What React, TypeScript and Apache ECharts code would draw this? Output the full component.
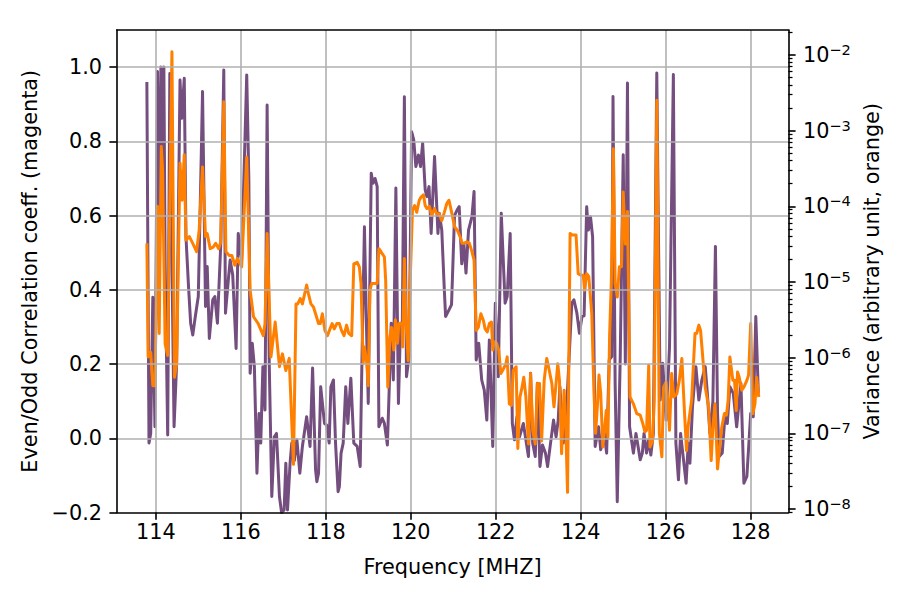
import React, { useEffect, useRef } from 'react';
import * as echarts from 'echarts';

const FONT = 'DejaVu Sans';
const MINUS = '\u2212';
const PURPLE = '#744e7e';
const ORANGE = '#ff7f00';
const GRID_GRAY = '#b0b0b0';
const FONT_SIZE = 20.8;
const SUP_SIZE = 14.6;

// Axis extents
const X_MIN = 113.08;
const X_MAX = 128.885;
const CORR_MIN = -0.2;
const CORR_MAX = 1.1;
const VAR_EXP_MIN = -8.046;
const VAR_EXP_MAX = -1.671;

// Tick positions
const freqTicks = [114, 116, 118, 120, 122, 124, 126, 128];
const corrTicks = [-0.2, 0, 0.2, 0.4, 0.6, 0.8, 1.0];
const varDecades = [-8, -7, -6, -5, -4, -3, -2];

// Even/odd correlation coefficient (left axis)
const corrFreq = [
  113.79, 113.84, 113.88, 113.93, 113.98, 114.04, 114.08, 114.12, 114.15, 114.19,
  114.22, 114.28, 114.33, 114.38, 114.43, 114.49, 114.57, 114.61, 114.67, 114.71,
  114.77, 114.82, 114.87, 114.93, 115.0, 115.05, 115.1, 115.17, 115.21, 115.26,
  115.34, 115.39, 115.45, 115.53, 115.6, 115.64, 115.71, 115.75, 115.81, 115.89,
  115.94, 116.02, 116.14, 116.19, 116.22, 116.27, 116.32, 116.38, 116.43, 116.47,
  116.52, 116.57, 116.62, 116.67, 116.73, 116.79, 116.84, 116.91, 116.96, 117.02,
  117.06, 117.1, 117.16, 117.2, 117.26, 117.32, 117.39, 117.45, 117.55, 117.63,
  117.69, 117.76, 117.79, 117.83, 117.88, 117.97, 118.02, 118.08, 118.12, 118.18,
  118.23, 118.29, 118.32, 118.36, 118.41, 118.47, 118.52, 118.59, 118.66, 118.74,
  118.81, 118.85, 118.91, 118.96, 119.0, 119.07, 119.11, 119.16, 119.21, 119.25,
  119.33, 119.38, 119.45, 119.5, 119.54, 119.59, 119.65, 119.71, 119.76, 119.8,
  119.85, 119.9, 119.96, 120.02, 120.07, 120.12, 120.18, 120.23, 120.28, 120.34,
  120.38, 120.43, 120.48, 120.56, 120.64, 120.67, 120.73, 120.79, 120.82, 120.9,
  120.96, 121.03, 121.09, 121.14, 121.2, 121.25, 121.3, 121.36, 121.44, 121.49,
  121.54, 121.6, 121.67, 121.73, 121.79, 121.85, 121.93, 121.99, 122.06, 122.13,
  122.22, 122.27, 122.34, 122.39, 122.44, 122.5, 122.56, 122.65, 122.77, 122.82,
  122.87, 122.93, 122.98, 123.04, 123.1, 123.17, 123.22, 123.28, 123.36, 123.42,
  123.47, 123.51, 123.59, 123.67, 123.79, 123.84, 123.91, 123.97, 124.03, 124.08,
  124.14, 124.18, 124.23, 124.28, 124.34, 124.42, 124.47, 124.55, 124.61, 124.67,
  124.73, 124.76, 124.81, 124.86, 124.93, 125.0, 125.05, 125.1, 125.15, 125.24,
  125.3, 125.4, 125.45, 125.49, 125.55, 125.6, 125.65, 125.71, 125.79, 125.87,
  125.93, 126.01, 126.09, 126.18, 126.24, 126.3, 126.35, 126.48, 126.53, 126.57,
  126.63, 126.71, 126.78, 126.85, 126.93, 126.98, 127.04, 127.11, 127.17, 127.22,
  127.26, 127.33, 127.4, 127.45, 127.51, 127.59, 127.67, 127.77, 127.84, 127.91,
  128.0, 128.06, 128.12, 128.18,
];
const corrValue = [
  0.96, -0.013, 0.013, 0.38, 0.031, 0.988, 0.56, 1.0, 0.65, 1.0,
  0.47, 0.009, 0.983, 0.47, 0.031, 0.2, 0.965, 0.862, 0.97, 0.543,
  0.41, 0.31, 0.278, 0.328, 0.382, 0.65, 0.934, 0.355, 0.463, 0.269,
  0.373, 0.382, 0.31, 0.525, 0.992, 0.337, 0.431, 0.48, 0.44, 0.242,
  0.552, 0.48, 0.979, 0.696, 0.175, 0.256, 0.193, -0.094, 0.067, -0.013,
  0.193, 0.076, 0.898, 0.2, -0.157, 0.004, 0.013, -0.157, -0.2, -0.193,
  -0.067, -0.193, -0.067, -0.013, -0.06, -0.004, -0.094, -0.022, 0.058, -0.022,
  0.189, -0.085, -0.117, -0.094, 0.139, 0.04, 0.036, -0.013, 0.139, 0.157,
  -0.013, -0.144, -0.13, -0.04, -0.013, 0.139, 0.04, 0.162, -0.013, -0.022,
  -0.076, 0.2, 0.57, 0.292, 0.094, 0.714, 0.687, 0.7, 0.678, 0.031,
  0.054, 0.04, -0.018, 0.157, 0.31, 0.157, 0.674, 0.094, 0.31, 0.287,
  0.92, 0.166, 0.22, 0.826, 0.804, 0.732, 0.763, 0.732, 0.795, 0.669,
  0.651, 0.678, 0.552, 0.759, 0.552, 0.606, 0.561, 0.4, 0.328, 0.346,
  0.36, 0.6, 0.615, 0.624, 0.47, 0.525, 0.445, 0.561, 0.597, 0.665,
  0.211, 0.256, 0.157, 0.13, 0.049, 0.265, -0.022, 0.364, 0.166, 0.606,
  0.364, 0.382, 0.552, 0.04, -0.004, 0.058, 0.004, 0.04, -0.049, 0.175,
  -0.013, -0.049, 0.148, -0.076, -0.018, -0.04, -0.076, -0.022, 0.049, 0.004,
  0.049, 0.139, -0.013, 0.085, 0.364, 0.373, 0.337, 0.283, 0.328, 0.33,
  0.624, 0.561, 0.597, 0.543, -0.022, 0.031, -0.031, 0.013, -0.04, 0.211,
  0.22, 0.921, 0.148, -0.171, 0.22, 0.764, 0.2, 0.957, 0.031, -0.04,
  0.013, -0.058, -0.04, 0.013, -0.04, -0.004, -0.045, 0.013, 0.984, 0.103,
  0.202, 0.049, 0.247, 0.98, -0.013, -0.112, 0.013, -0.121, -0.013, -0.067,
  0.085, 0.193, 0.103, 0.157, 0.193, 0.121, 0.013, 0.099, 0.517, 0.067,
  -0.049, -0.04, 0.067, 0.04, 0.139, 0.121, 0.031, 0.148, -0.121, -0.103,
  0.067, 0.058, 0.328, 0.121,
];

// Variance, stored as base-10 exponents (right axis)
const varFreq = [
  113.79, 113.82, 113.88, 113.93, 113.98, 114.04, 114.08, 114.13, 114.16, 114.22,
  114.28, 114.38, 114.44, 114.49, 114.57, 114.62, 114.67, 114.71, 114.79, 114.87,
  114.96, 115.02, 115.1, 115.17, 115.21, 115.28, 115.35, 115.41, 115.48, 115.53,
  115.6, 115.65, 115.73, 115.79, 115.86, 115.92, 116.02, 116.14, 116.22, 116.3,
  116.41, 116.53, 116.57, 116.62, 116.71, 116.81, 116.91, 116.98, 117.06, 117.14,
  117.24, 117.3, 117.34, 117.4, 117.45, 117.55, 117.59, 117.65, 117.71, 117.76,
  117.83, 117.87, 117.92, 117.98, 118.04, 118.1, 118.15, 118.2, 118.26, 118.32,
  118.37, 118.43, 118.49, 118.54, 118.61, 118.66, 118.74, 118.79, 118.83, 118.88,
  118.91, 118.96, 119.0, 119.04, 119.08, 119.14, 119.21, 119.25, 119.3, 119.38,
  119.41, 119.46, 119.51, 119.55, 119.6, 119.64, 119.69, 119.72, 119.79, 119.81,
  119.85, 119.89, 119.94, 119.98, 120.04, 120.09, 120.14, 120.2, 120.24, 120.3,
  120.34, 120.38, 120.44, 120.49, 120.56, 120.61, 120.67, 120.73, 120.79, 120.85,
  120.9, 120.97, 121.03, 121.1, 121.16, 121.21, 121.25, 121.32, 121.38, 121.43,
  121.49, 121.54, 121.59, 121.65, 121.71, 121.75, 121.8, 121.85, 121.9, 121.93,
  121.97, 122.02, 122.07, 122.12, 122.18, 122.24, 122.27, 122.32, 122.37, 122.41,
  122.48, 122.52, 122.57, 122.62, 122.66, 122.71, 122.77, 122.82, 122.87, 122.93,
  122.98, 123.03, 123.08, 123.14, 123.2, 123.26, 123.32, 123.37, 123.42, 123.46,
  123.5, 123.55, 123.61, 123.65, 123.69, 123.75, 123.8, 123.89, 123.94, 124.0,
  124.06, 124.09, 124.14, 124.19, 124.26, 124.31, 124.35, 124.39, 124.43, 124.47,
  124.52, 124.56, 124.6, 124.64, 124.68, 124.72, 124.77, 124.81, 124.86, 124.91,
  124.96, 125.0, 125.05, 125.1, 125.16, 125.24, 125.32, 125.4, 125.46, 125.51,
  125.55, 125.6, 125.63, 125.69, 125.73, 125.79, 125.85, 125.91, 125.95, 126.01,
  126.05, 126.09, 126.14, 126.19, 126.26, 126.32, 126.38, 126.44, 126.49, 126.53,
  126.61, 126.65, 126.69, 126.73, 126.78, 126.82, 126.89, 126.93, 126.97, 127.01,
  127.07, 127.11, 127.16, 127.22, 127.26, 127.32, 127.38, 127.43, 127.47, 127.51,
  127.58, 127.62, 127.66, 127.69, 127.73, 127.79, 127.84, 127.91, 127.95, 128.0,
  128.05, 128.1, 128.14, 128.19,
];
const varExp = [
  -4.49, -5.99, -5.93, -6.37, -6.37, -4.0, -5.68, -3.21, -3.52, -5.82,
  -5.97, -1.96, -6.26, -6.08, -3.43, -3.92, -3.32, -4.45, -4.40, -4.49,
  -4.60, -4.32, -3.48, -4.40, -4.36, -4.56, -4.54, -4.49, -4.56, -4.47,
  -2.62, -4.60, -4.65, -4.65, -4.78, -4.69, -4.80, -3.35, -5.11, -5.46,
  -5.55, -5.71, -5.55, -4.36, -5.99, -5.53, -6.12, -5.95, -6.17, -6.01,
  -7.41, -5.29, -5.29, -5.22, -5.29, -5.04, -5.15, -5.29, -5.33, -5.42,
  -5.55, -5.55, -5.42, -5.64, -5.71, -5.62, -5.55, -5.62, -5.55, -5.55,
  -5.64, -5.71, -5.57, -5.68, -5.71, -4.76, -4.74, -4.80, -5.02, -6.08,
  -5.86, -6.04, -6.37, -5.11, -5.02, -5.02, -5.02, -4.56, -4.60, -4.67,
  -4.98, -6.39, -5.73, -5.60, -5.90, -5.50, -5.81, -5.55, -5.55, -5.86,
  -4.69, -5.55, -6.04, -5.11, -4.05, -3.99, -4.08, -3.92, -3.88, -3.85,
  -3.99, -4.03, -4.0, -4.12, -4.03, -4.10, -4.10, -4.19, -4.08, -3.96,
  -3.92, -4.10, -4.27, -4.32, -4.40, -4.49, -4.49, -4.47, -4.49, -4.58,
  -4.71, -5.64, -5.60, -5.42, -5.51, -5.62, -5.66, -5.55, -5.53, -5.90,
  -5.79, -5.81, -5.90, -6.21, -6.15, -6.08, -5.99, -6.61, -6.63, -6.17,
  -6.12, -7.20, -6.52, -6.39, -6.26, -6.52, -7.14, -6.21, -6.96, -7.14,
  -6.34, -6.34, -7.10, -6.30, -6.01, -6.17, -6.34, -6.65, -6.34, -6.08,
  -6.30, -7.27, -6.43, -6.96, -7.78, -4.36, -4.38, -4.38, -4.89, -4.91,
  -4.91, -5.11, -4.89, -4.93, -5.42, -6.43, -7.0, -6.65, -6.23, -6.47,
  -7.18, -6.96, -6.70, -7.05, -5.70, -5.00, -3.24, -5.02, -5.20, -4.80,
  -4.80, -3.81, -4.50, -4.07, -6.52, -6.61, -6.74, -6.76, -6.87, -6.98,
  -6.96, -6.10, -7.18, -7.10, -6.56, -2.60, -7.00, -7.31, -6.39, -6.32,
  -6.56, -6.96, -6.21, -6.52, -6.48, -6.30, -6.01, -6.70, -7.23, -6.90,
  -6.56, -6.12, -5.68, -5.68, -5.57, -5.64, -6.12, -6.39, -6.52, -6.65,
  -7.36, -6.92, -6.61, -7.47, -7.23, -6.92, -6.74, -6.76, -6.56, -5.99,
  -6.30, -6.30, -6.70, -6.19, -6.26, -6.43, -6.39, -6.30, -6.23, -5.55,
  -6.74, -6.61, -6.26, -6.52,
];

// Minor log ticks (2..9 x 10^n) inside the right axis extent
function minorLogTicks(): number[] {
  const out: number[] = [];
  for (let n = -9; n <= -1; n++) {
    for (let k = 2; k <= 9; k++) {
      const v = n + Math.log10(k);
      if (v > VAR_EXP_MIN && v < VAR_EXP_MAX) out.push(v);
    }
  }
  return out;
}

const textBase = { fontFamily: FONT, fontSize: FONT_SIZE, color: '#000' };
const spine = { show: true, onZero: false, lineStyle: { color: '#000', width: 1.6 } };
const majorTick = { lineStyle: { color: '#000', width: 1.6 }, length: 7.3, inside: false };

export default function App() {
  const ref = useRef<HTMLDivElement>(null);

  useEffect(() => {
    if (!ref.current) return;
    const chart = echarts.init(ref.current, null, { renderer: 'svg' });

    const corrData = corrFreq.map((f, i) => [f, corrValue[i]]);
    const varData = varFreq.map((f, i) => [f, varExp[i]]);

    const option: any = {
      animation: false,
      backgroundColor: '#fff',
      textStyle: { fontFamily: FONT },
      grid: { left: 116.7, right: 111.7, top: 30, bottom: 87.5, containLabel: false },
      xAxis: [
        {
          type: 'value',
          position: 'bottom',
          min: X_MIN,
          max: X_MAX,
          z: 5,
          axisLine: spine,
          axisTick: { show: true, customValues: freqTicks, ...majorTick },
          axisLabel: {
            show: true,
            customValues: freqTicks,
            margin: 9,
            ...textBase,
            formatter: (v: number) => String(v),
          },
          splitLine: { show: false },
          name: 'Frequency [MHZ]',
          nameLocation: 'middle',
          nameGap: 43.5,
          nameTextStyle: textBase,
        },
        {
          type: 'value',
          position: 'top',
          min: X_MIN,
          max: X_MAX,
          z: 5,
          axisLine: spine,
          axisTick: { show: false },
          axisLabel: { show: false },
          splitLine: { show: false },
        },
      ],
      yAxis: [
        {
          type: 'value',
          position: 'left',
          min: CORR_MIN,
          max: CORR_MAX,
          z: 5,
          axisLine: spine,
          axisTick: { show: true, customValues: corrTicks, ...majorTick },
          axisLabel: {
            show: true,
            customValues: corrTicks,
            margin: 14.6,
            ...textBase,
            formatter: (v: number) => v.toFixed(1).replace('-', MINUS),
          },
          splitLine: { show: false },
          name: 'Even/Odd Correlation coeff. (magenta)',
          nameLocation: 'middle',
          nameRotate: 90,
          nameGap: 73.5,
          nameTextStyle: textBase,
        },
        {
          type: 'value',
          position: 'right',
          min: VAR_EXP_MIN,
          max: VAR_EXP_MAX,
          z: 5,
          axisLine: spine,
          axisTick: { show: true, customValues: varDecades, ...majorTick },
          axisLabel: {
            show: true,
            customValues: varDecades,
            margin: 14.6,
            formatter: (v: number) =>
              `{b|10}{s|${v < 0 ? MINUS : ''}${Math.abs(Math.round(v))}}`,
            rich: {
              b: { fontFamily: FONT, fontSize: FONT_SIZE, color: '#000', lineHeight: 26 },
              s: { fontFamily: FONT, fontSize: SUP_SIZE, color: '#000', lineHeight: 15, verticalAlign: 'top' },
            },
          },
          splitLine: { show: false },
          name: 'Variance (arbitrary unit, orange)',
          nameLocation: 'middle',
          nameRotate: 90,
          nameGap: 66,
          nameTextStyle: textBase,
        },
        {
          type: 'value',
          position: 'right',
          min: VAR_EXP_MIN,
          max: VAR_EXP_MAX,
          z: 5,
          axisLine: { show: false },
          axisTick: {
            show: true,
            customValues: minorLogTicks(),
            length: 4.2,
            lineStyle: { color: '#000', width: 1.25 },
          },
          axisLabel: { show: false },
          splitLine: { show: false },
        },
      ],
      series: [
        {
          // grid lines
          type: 'line',
          xAxisIndex: 0,
          yAxisIndex: 0,
          data: [],
          z: 1,
          silent: true,
          markLine: {
            silent: true,
            animation: false,
            symbol: ['none', 'none'],
            label: { show: false },
            emphasis: { disabled: true },
            lineStyle: { color: GRID_GRAY, width: 1.6, type: 'solid' },
            data: [
              ...freqTicks.map((v) => ({ xAxis: v })),
              ...corrTicks.filter((v) => v > CORR_MIN).map((v) => ({ yAxis: v })),
            ],
          },
        },
        {
          name: 'Even/Odd correlation',
          type: 'line',
          xAxisIndex: 0,
          yAxisIndex: 0,
          data: corrData,
          showSymbol: false,
          symbol: 'none',
          z: 2,
          silent: true,
          lineStyle: { color: PURPLE, width: 3, join: 'round' },
        },
        {
          name: 'Variance',
          type: 'line',
          xAxisIndex: 0,
          yAxisIndex: 1,
          data: varData,
          showSymbol: false,
          symbol: 'none',
          z: 3,
          silent: true,
          lineStyle: { color: ORANGE, width: 3, join: 'round' },
        },
      ],
    };

    chart.setOption(option);
    return () => chart.dispose();
  }, []);

  return (
    <div
      ref={ref}
      style={{ position: 'fixed', left: 0, top: 0, width: 900, height: 600, background: '#fff' }}
    />
  );
}
